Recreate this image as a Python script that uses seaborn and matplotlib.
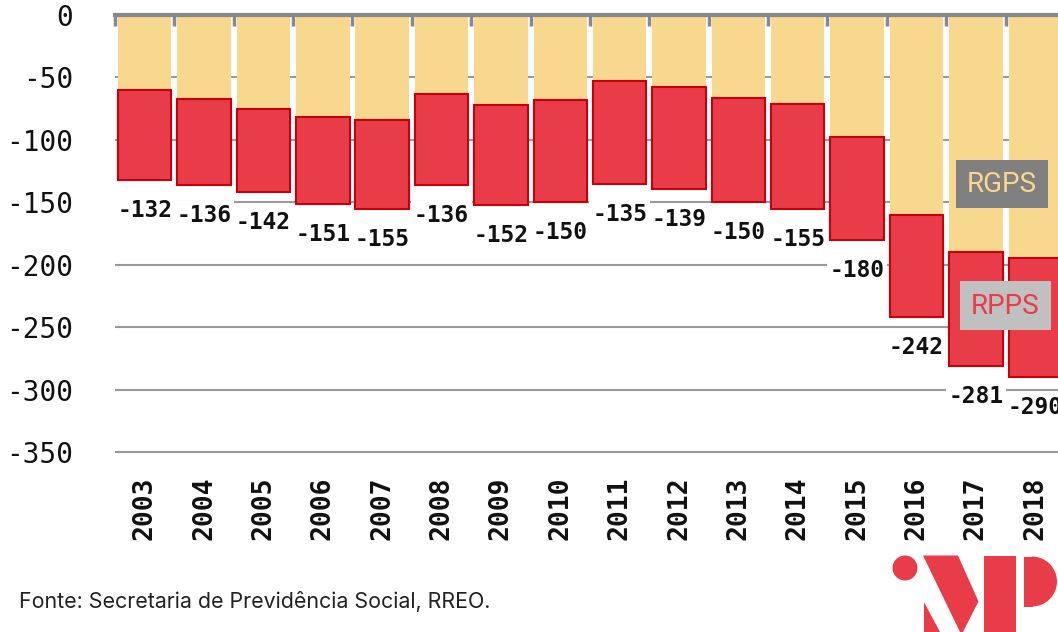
import matplotlib
matplotlib.use("Agg")
import matplotlib.pyplot as plt
import numpy as np
import seaborn as sns
from matplotlib.patches import Circle, Polygon, Rectangle, Wedge

# deficit, R$ bilhoes
YEARS = [str(y) for y in range(2003, 2019)]
TOTAL = [-132, -136, -142, -151, -155, -136, -152, -150, -135, -139, -150, -155, -180, -242, -281, -290]
RGPS = [-60, -67.5, -75, -82, -84, -63.5, -72, -68, -53, -58, -66.5, -71, -97.5, -160, -190, -195]
RPPS = [t - g for t, g in zip(TOTAL, RGPS)]
Y_TICKS = [0, -50, -100, -150, -200, -250, -300, -350]

YELLOW = "#f8d78f"
RED = "#e83c48"
EDGE = "#c8000c"
GRID = "#9a9a9a"
MONO = "DejaVu Sans Mono"

sns.set_style("white")
plt.rcParams["font.family"] = ["DejaVu Sans"]

W, H = 1058, 632
fig = plt.figure(figsize=(W / 100, H / 100), dpi=100)

# axes placed in pixel units
px = 437.0 / 350
left, right = 115, 115 + 16 * 59.37
top, bottom = 15, 15 + 352 * px
ax = fig.add_axes([left / W, 1 - bottom / H, (right - left) / W, (bottom - top) / H])

sns.barplot(x=YEARS, y=RGPS, color=YELLOW, saturation=1, width=0.9,
            errorbar=None, linewidth=0, ax=ax)
sns.barplot(x=YEARS, y=RPPS, bottom=RGPS, color=RED, saturation=1, width=0.9,
            errorbar=None, edgecolor=EDGE, linewidth=1.5, ax=ax)

for i, t in enumerate(TOTAL):
    ax.annotate(str(t), (i, t), xytext=(0, -22), textcoords="offset points",
                ha="center", va="center", fontsize=16.5, fontweight="bold",
                family=MONO, color="#111111", zorder=6,
                bbox=dict(boxstyle="square,pad=0.12", fc="white", ec="none"))

ax.set_xlim(-0.5, 15.5)
ax.set_ylim(-352, 0)
ax.set_yticks(Y_TICKS)
ax.set_yticklabels([str(v) for v in Y_TICKS], family=MONO, fontsize=20, color="#111111")
ax.set_axisbelow(True)
ax.yaxis.grid(True, color=GRID, linewidth=1.5)
ax.xaxis.grid(False)
ax.tick_params(axis="y", length=0, pad=30)
ax.tick_params(axis="x", which="major", length=0, pad=16)
for lab in ax.get_xticklabels():
    lab.set_rotation(90)
    lab.set_family(MONO)
    lab.set_fontweight("bold")
    lab.set_fontsize(19)
    lab.set_color("#111111")

ax.set_xticks(np.arange(-0.5, 16, 1), minor=True)
ax.tick_params(axis="x", which="minor", top=True, bottom=False, direction="in",
               length=8, width=2.5, color="#888888")
for side in ["left", "right", "bottom"]:
    ax.spines[side].set_visible(False)
ax.spines["top"].set_color("#888888")
ax.spines["top"].set_linewidth(3)
ax.spines["top"].set_zorder(5)
ax.set_xlabel("")
ax.set_ylabel("")

# overlay for legend boxes, source and logo (pixel coordinates)
ov = fig.add_axes([0, 0, 1, 1], zorder=10)
ov.set_xlim(0, W)
ov.set_ylim(H, 0)
ov.axis("off")
ov.patch.set_alpha(0)

ov.add_patch(Rectangle((956, 160), 92, 48, fc="#808080", ec="none"))
ov.text(1002, 185, "RGPS", ha="center", va="center", fontsize=20,
        family="Roboto", color=YELLOW)
ov.add_patch(Rectangle((960, 281), 91, 49, fc="#c0c0c0", ec="none"))
ov.text(1005.5, 306, "RPPS", ha="center", va="center", fontsize=20,
        family="Roboto", color=RED)

ov.text(19, 602, "Fonte: Secretaria de Previdência Social, RREO.", ha="left",
        va="center", fontsize=15.4, family="Inter", color="#222222")

ov.add_patch(Circle((905, 568), 12.5, fc=RED, ec="none"))
ov.add_patch(Polygon([(923, 555.5), (958, 555.5), (978.5, 601.5), (963, 632), (960, 632)],
                     closed=True, fc=RED, ec="none"))
ov.add_patch(Polygon([(923.5, 601.5), (923.5, 632), (940, 632)], closed=True, fc=RED, ec="none"))
ov.add_patch(Rectangle((984, 555.5), 32, 77, fc=RED, ec="none"))
ov.add_patch(Rectangle((1024, 556.5), 9, 50, fc=RED, ec="none"))
ov.add_patch(Wedge((1032, 581.5), 25, -90, 90, fc=RED, ec="none"))

fig.savefig("out.png", dpi=100)
